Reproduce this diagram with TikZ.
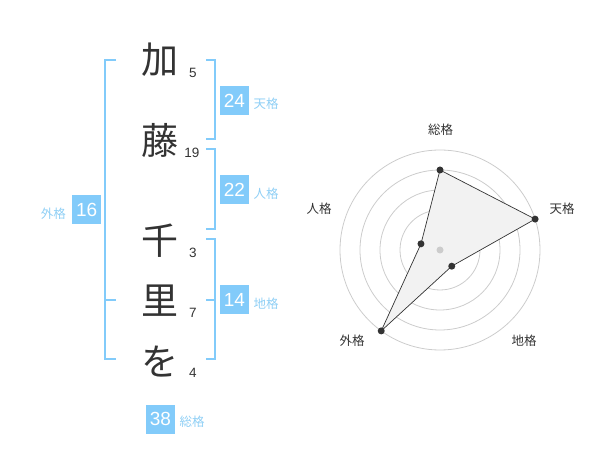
\documentclass[tikz,border=0pt]{standalone}
\usepackage{fontspec}
\setmainfont{Liberation Sans}
\newfontfamily\cjk{Noto Sans CJK JP}
\usetikzlibrary{calc}
\definecolor{bl}{HTML}{82CBFA}
\definecolor{bltext}{HTML}{8FCFF5}
\definecolor{ink}{HTML}{333333}
\definecolor{ring}{HTML}{CCCCCC}
\definecolor{polyfill}{HTML}{F2F2F2}
\tikzset{
  bigchar/.style={font=\cjk\fontsize{37}{37}\selectfont, text=ink, inner sep=0pt},
  strokes/.style={font=\fontsize{13.5}{14}\selectfont, text=ink, inner sep=0pt},
  valbox/.style={fill=bl, text=white, minimum width=29pt, minimum height=29pt, inner sep=0pt, font=\fontsize{19}{19}\selectfont},
  kaku/.style={font=\cjk\fontsize{12.5}{13}\selectfont, text=bltext, inner sep=0pt},
  brk/.style={draw=bl, line width=2pt},
  axislabel/.style={font=\cjk\fontsize{12.5}{13}\selectfont, text=ink, inner sep=0pt},
  ringline/.style={draw=ring, line width=0.8pt},
  pt/.style={circle, fill=ink, minimum size=7pt, inner sep=0pt},
}
\begin{document}
\begin{tikzpicture}[x=1pt,y=-1pt]
\useasboundingbox (0,0) rectangle (600,470);
% characters
\node[bigchar] (c1) at (160,60) {加};
\node[bigchar] (c2) at (160,140) {藤};
\node[bigchar] (c3) at (160,241) {千};
\node[bigchar] (c4) at (160,301) {里};
\node[bigchar] (c5) at (160,362) {を};
% stroke counts
\node[strokes] (n1) at (193,73) {5};
\node[strokes] (n2) at (192,153) {19};
\node[strokes] (n3) at (193,253) {3};
\node[strokes] (n4) at (193,313) {7};
\node[strokes] (n5) at (193,373) {4};
% brackets
\draw[brk] (116,60) -- (105,60) -- (105,359.3) -- (116,359.3);
\draw[brk] (105,300) -- (116,300);
\draw[brk] (206,60) -- (215,60) -- (215,139.3) -- (206,139.3);
\draw[brk] (206,149.3) -- (215,149.3) -- (215,229.3) -- (206,229.3);
\draw[brk] (206,239.3) -- (215,239.3) -- (215,359.3) -- (206,359.3);
\draw[brk] (206,300) -- (215,300);
% value boxes
\node[valbox] (ten) at (234.5,100.5) {24};
\node[kaku] (tenl) at (266,104) {天格};
\node[valbox] (jin) at (234.5,190) {22};
\node[kaku] (jinl) at (266,194) {人格};
\node[valbox] (chi) at (234.5,300) {14};
\node[kaku] (chil) at (266,304) {地格};
\node[valbox] (gai) at (86.7,210) {16};
\node[kaku] (gail) at (53.3,214) {外格};
\node[valbox] (sou) at (160.5,419) {38};
\node[kaku] (soul) at (192,422) {総格};
% radar chart
\coordinate (c) at (440,250);
\foreach \r in {20,40,60,80,100}
  \draw[ringline] (c) circle[radius=\r pt];
\coordinate (p1) at ($(c)+(-90:80)$);
\coordinate (p2) at ($(c)+(-18:100)$);
\coordinate (p3) at ($(c)+(54:20)$);
\coordinate (p4) at ($(c)+(126:100)$);
\coordinate (p5) at ($(c)+(-162:20)$);
\draw[fill=polyfill, draw=ink, line width=0.7pt] (p1) -- (p2) -- (p3) -- (p4) -- (p5) -- cycle;
\node[circle, fill=ring, minimum size=7pt, inner sep=0pt] (ctr) at (c) {};
\node[pt] (d1) at (p1) {};
\node[pt] (d2) at (p2) {};
\node[pt] (d3) at (p3) {};
\node[pt] (d4) at (p4) {};
\node[pt] (d5) at (p5) {};
\node[axislabel] (a1) at (440.7,130) {総格};
\node[axislabel] (a2) at (562,208.7) {天格};
\node[axislabel] (a3) at (524,341) {地格};
\node[axislabel] (a4) at (352,341) {外格};
\node[axislabel] (a5) at (319,208.7) {人格};
\end{tikzpicture}
\end{document}
